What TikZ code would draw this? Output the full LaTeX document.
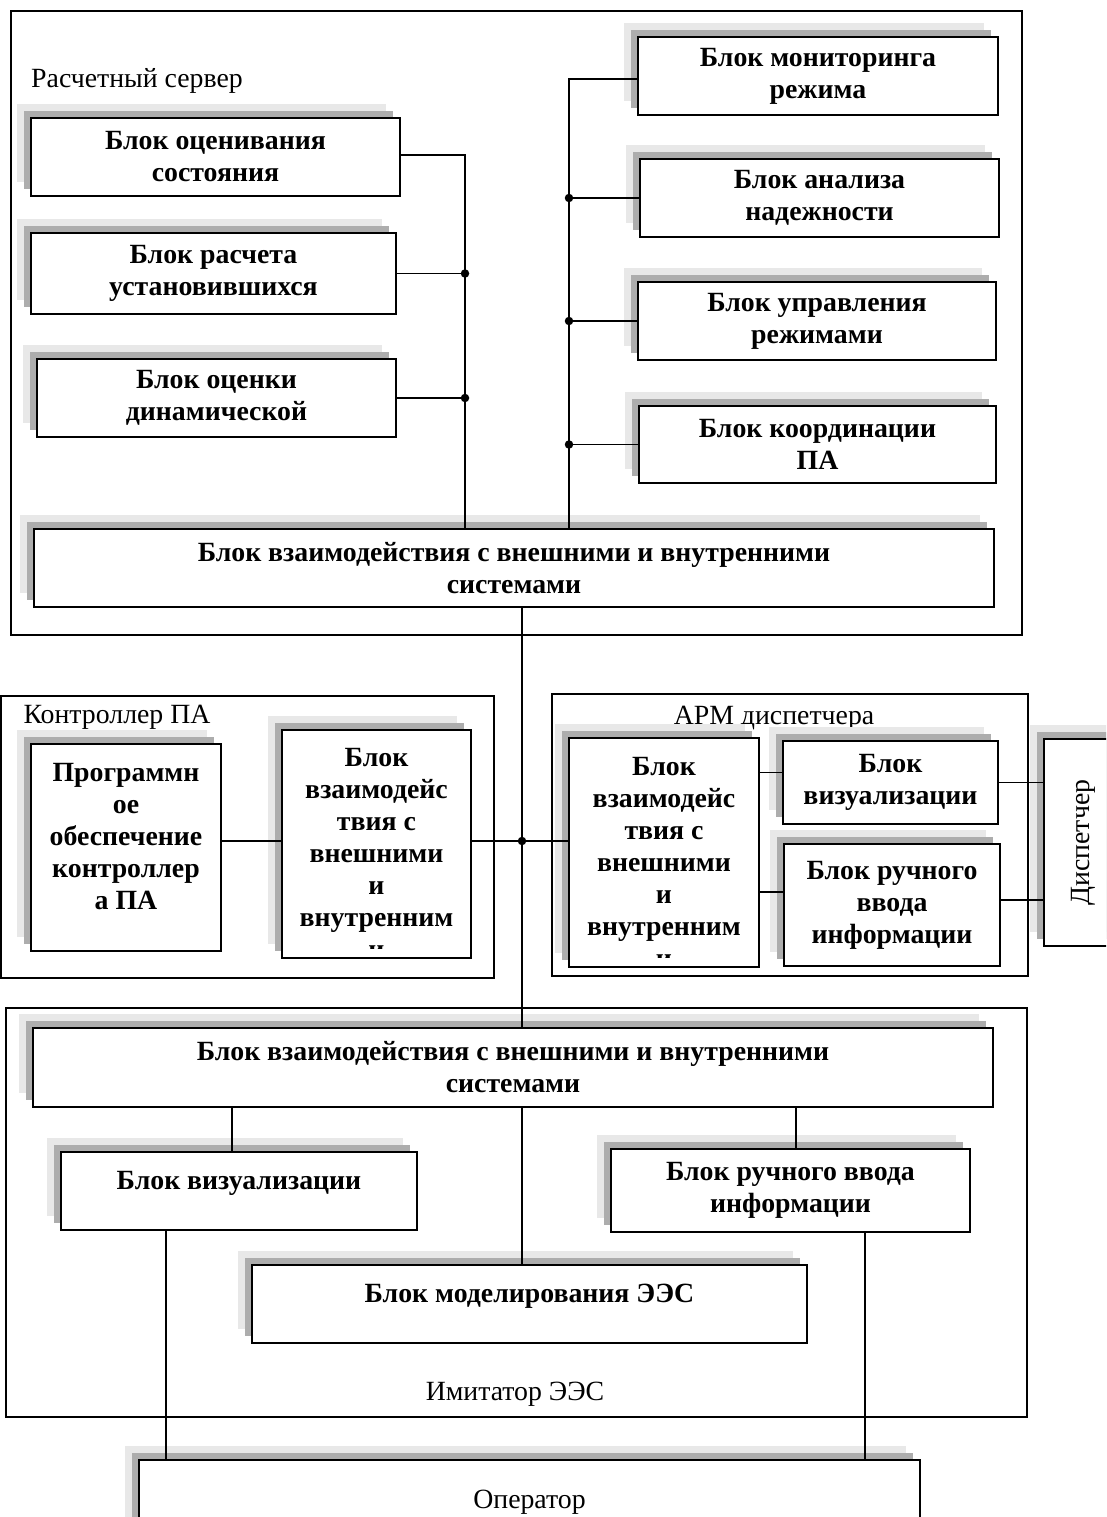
\documentclass[tikz,border=0pt]{standalone}
\usepackage{fontspec}
\setmainfont{Liberation Serif}
\usepackage{graphicx}
\usetikzlibrary{shadows}

\definecolor{tenblizh}{gray}{0.68}
\definecolor{tendal}{gray}{0.91}

\tikzset{
  bloktekst/.style={inner sep=0pt, align=center, font=\bfseries\fontsize{27.8}{32}\selectfont},
  blok/.style={bloktekst, draw, line width=1.7pt, fill=white,
    general shadow={fill=tendal, shadow xshift=-14pt, shadow yshift=14pt},
    general shadow={fill=tenblizh, shadow xshift=-7pt, shadow yshift=7pt}},
  ramka/.style={draw, line width=1.3pt},
  podpis/.style={inner sep=0pt, font=\fontsize{27.8}{32}\selectfont},
  svyaz/.style={line width=1.4pt},
  tochka/.style={circle, fill, inner sep=0pt, minimum size=8.5pt}
}

\begin{document}
\begin{tikzpicture}[x=1pt,y=-1pt]
\useasboundingbox (0,0) rectangle (1106,1517);
\clip (0,0) rectangle (1106,1517);

% frames and their captions
\draw[ramka] (11,11) rectangle (1022,635);
\draw[ramka] (1,696) rectangle (494,978);
\draw[ramka] (552,694) rectangle (1028,976);
\draw[ramka] (6,1008) rectangle (1027,1417);
\node[podpis, anchor=base west] (lserv) at (31,88) {Расчетный сервер};
\node[podpis, anchor=base] (lctrl) at (117,723) {Контроллер ПА};
\node[podpis, anchor=base] (larm) at (774,724) {АРМ диспетчера};
\node[podpis, anchor=base] (limit) at (515,1400) {Имитатор ЭЭС};

% server
\node[blok, minimum width=369pt, minimum height=78pt] (ocen) at (215.5,157) {Блок оценивания\\состояния};
\node[blok, minimum width=365pt, minimum height=81pt] (rasch) at (213.5,273.5) {Блок расчета\\установившихся};
\node[blok, minimum width=359pt, minimum height=78pt] (dinam) at (216.5,398) {Блок оценки\\динамической};
\node[blok, minimum width=360pt, minimum height=78pt] (monit) at (818,76) {Блок мониторинга\\режима};
\node[blok, minimum width=359pt, minimum height=78pt] (analiz) at (819.5,198) {Блок анализа\\надежности};
\node[blok, minimum width=358pt, minimum height=78pt] (uprav) at (817,321) {Блок управления\\режимами};
\node[blok, minimum width=357pt, minimum height=77pt] (koord) at (817.5,444.5) {Блок координации\\ПА};
\node[blok, minimum width=960pt, minimum height=78pt] (vzaim) at (514,568) {Блок взаимодействия с внешними и внутренними\\системами};

% controller
\node[blok, minimum width=190pt, minimum height=207pt, text depth=22pt] (prog) at (126,847.5) {Программн\\ое\\обеспечение\\контроллер\\а ПА};
\node[blok, minimum width=189pt, minimum height=228pt] (ctrlv) at (376.5,844) {};
\begin{scope}
  \clip (ctrlv.north west) rectangle ([yshift=10pt]ctrlv.south east);
  \node[bloktekst, anchor=north] (ctrlvT) at ([yshift=-19pt]ctrlv.north) {Блок\\взаимодейс\\твия с\\внешними\\и\\внутренним\\и};
\end{scope}

% dispatcher workstation
\node[blok, minimum width=190pt, minimum height=229pt] (armv) at (664,852.5) {};
\begin{scope}
  \clip (armv.north west) rectangle ([yshift=10pt]armv.south east);
  \node[bloktekst, anchor=north] (armvT) at ([yshift=-20pt]armv.north) {Блок\\взаимодейс\\твия с\\внешними\\и\\внутренним\\и};
\end{scope}
\node[blok, minimum width=215pt, minimum height=83pt] (armvis) at (890.5,782.5) {Блок\\визуализации};
\node[blok, minimum width=216pt, minimum height=122pt] (armvvod) at (892,905) {Блок ручного\\ввода\\информации};
\node[blok, font=\fontsize{27.8}{32}\selectfont, minimum width=78pt, minimum height=207pt] (disp) at (1083,842.5) {\rotatebox{90}{Диспетчер}};

% simulator
\node[blok, minimum width=960pt, minimum height=79pt] (vzaimI) at (513,1067.5) {Блок взаимодействия с внешними и внутренними\\системами};
\node[blok, minimum width=356pt, minimum height=78pt, text depth=22pt] (visI) at (239,1191) {Блок визуализации};
\node[blok, minimum width=359pt, minimum height=83pt] (vvodI) at (790.5,1190.5) {Блок ручного ввода\\информации};
\node[blok, minimum width=555pt, minimum height=78pt, text depth=22pt] (model) at (529.5,1304) {Блок моделирования ЭЭС};
\node[blok, font=\fontsize{27.8}{32}\selectfont, minimum width=781pt, minimum height=84pt] (oper) at (529.5,1502) {Оператор};

% buses of the server
\coordinate (lbus) at (465,0);
\coordinate (rbus) at (569,0);
\draw[svyaz] ([yshift=2pt]ocen.east) -| (lbus |- vzaim.north);
\foreach \b in {rasch,dinam}
  \draw[svyaz] (\b.east) -- (\b.east -| lbus) node[tochka] {};
\draw[svyaz] ([yshift=-3pt]monit.west) -| (rbus |- vzaim.north);
\foreach \b in {analiz,uprav,koord}
  \draw[svyaz] (\b.west) -- (\b.west -| rbus) node[tochka] {};

% trunk
\coordinate (hub) at (522,841);
\draw[svyaz] (vzaim.south -| hub) -- (vzaimI.north -| hub);
\draw[svyaz] (prog.east |- hub) -- (ctrlv.west |- hub);
\draw[svyaz] (ctrlv.east |- hub) -- (armv.west |- hub);
\node[tochka] (hubdot) at (hub) {};

% workstation links
\draw[svyaz] ([yshift=10pt]armvis.west) -- ([yshift=10pt]armvis.west -| armv.east);
\draw[svyaz] ([yshift=13pt]armvvod.west) -- ([yshift=13pt]armvvod.west -| armv.east);
\draw[svyaz] (armvis.east) -- (armvis.east -| disp.west);
\draw[svyaz] ([yshift=5pt]armvvod.east) -- ([yshift=5pt]armvvod.east -| disp.west);

% simulator links
\draw[svyaz] ([xshift=-7pt]visI.north) -- ([xshift=-7pt]visI.north |- vzaimI.south);
\draw[svyaz] ([xshift=5.5pt]vvodI.north) -- ([xshift=5.5pt]vvodI.north |- vzaimI.south);
\draw[svyaz] (model.north -| hub) -- (vzaimI.south -| hub);
\draw[svyaz] ([xshift=-73pt]visI.south) -- ([xshift=-73pt]visI.south |- oper.north);
\draw[svyaz] ([xshift=74.5pt]vvodI.south) -- ([xshift=74.5pt]vvodI.south |- oper.north);
\end{tikzpicture}
\end{document}
